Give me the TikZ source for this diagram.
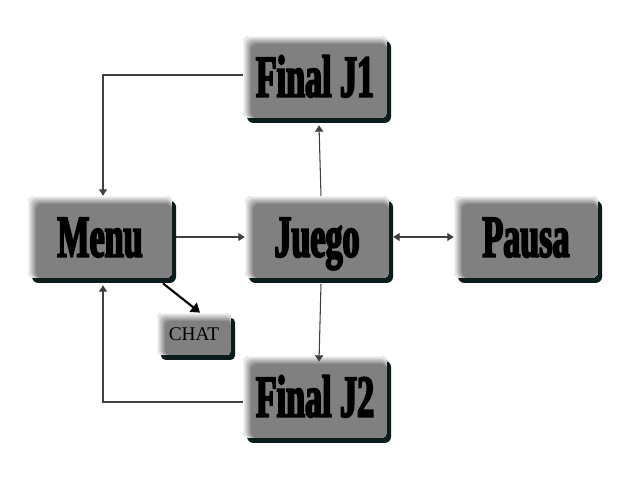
\documentclass[tikz,border=0pt]{standalone}
\usepackage{fontspec}
\usetikzlibrary{arrows.meta,shadows,backgrounds}
\newfontfamily\botonfont{Liberation Serif Bold}[FakeStretch=0.57,FakeBold=3]
\newfontfamily\chatfont{Liberation Serif}
\definecolor{gris}{HTML}{808080}
\definecolor{sombra}{HTML}{0A1C1C}
\definecolor{linea}{HTML}{404040}
\begin{document}
\begin{tikzpicture}[x=0.02cm, y=-0.02cm,
  boton/.style={rectangle, rounded corners=3.5pt, fill=gris, inner sep=0pt,
    minimum width=2.88cm, minimum height=1.64cm, text height=22.5pt, text depth=0pt,
    font=\botonfont\fontsize{34}{34}\selectfont,
    drop shadow={shadow xshift=2.3pt, shadow yshift=-2.8pt, fill=sombra, opacity=1},
    path picture={
      \foreach \i [evaluate=\i as \p using 92-\i*11.5] in {0,...,8}
        \fill[white!\p!gris] ([shift={(\i*0.57pt,-\i*0.57pt)}]path picture bounding box.north west)
          rectangle (path picture bounding box.south east);
    }},
  chico/.style={boton, minimum width=1.48cm, minimum height=0.84cm, text height=7.2pt,
    rounded corners=2.5pt, font=\chatfont\fontsize{11}{11}\selectfont},
  flecha/.style={draw=linea, line width=0.6pt, -{Triangle[width=4.6pt,length=3.6pt]}},
  doble/.style={flecha, {Triangle[width=4.6pt,length=3.6pt]}-{Triangle[width=4.6pt,length=3.6pt]}}]
\useasboundingbox (0,0) rectangle (640,480);
% estados
\node[boton] (menu) at (100,237) {Menu};
\node[boton] (juego) at (317,237) {Juego};
\node[boton] (pausa) at (526,237) {Pausa};
\node[boton] (fin1) at (315,77) {Final J1};
\node[boton] (fin2) at (315,397) {Final J2};
\node[chico] (chat) at (194,334) {CHAT};
% transiciones
\begin{scope}[on background layer]
\fill[white] (0,0) rectangle (640,480);
\draw[flecha] ([yshift=0.04cm]fin1.west) -| ([xshift=0.06cm]menu.north);
\draw[flecha] (menu.east) -- (juego.west);
\draw[flecha] ([xshift=0.08cm]juego.north) -- ([xshift=0.08cm,yshift=-0.14cm]fin1.south);
\draw[doble] ([xshift=0.08cm]juego.east) -- (pausa.west);
\draw[flecha] ([yshift=-0.1cm]fin2.west) -| ([xshift=0.06cm,yshift=-0.14cm]menu.south);
\end{scope}
\draw[flecha] ([xshift=0.08cm,yshift=-0.11cm]juego.south) -- ([xshift=0.08cm,yshift=-0.12cm]fin2.north);
\draw[-{Triangle[width=6.5pt,length=5pt]}, line width=1.2pt, black] ([xshift=1.26cm,yshift=-0.1cm]menu.south) -- ([xshift=0.12cm]chat.north);
\end{tikzpicture}
\end{document}
